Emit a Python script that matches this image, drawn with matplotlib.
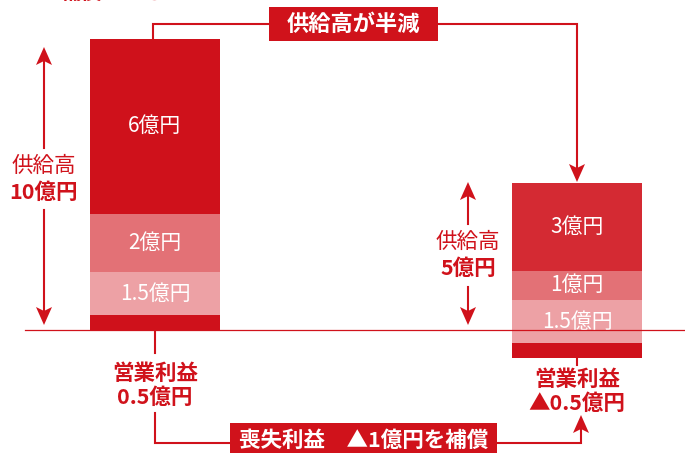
import matplotlib
matplotlib.use("Agg")
import matplotlib.pyplot as plt
from matplotlib.patches import Rectangle, Polygon

plt.rcParams['font.family'] = ['Noto Sans CJK JP', 'DejaVu Sans']

# ---- data (億円) ----
categories = ["before", "after"]
left_values = [0.5, 1.5, 2.0, 6.0]          # 営業利益, 1.5, 2, 6
left_labels = ["", "1.5億円", "2億円", "6億円"]
right_values = [0.5, 1.5, 1.0, 3.0]
right_labels = ["", "1.5億円", "1億円", "3億円"]
right_bottom = -0.96
left_colors = ["#CF111B", "#EDA1A5", "#E37176", "#CF111B"]
right_colors = ["#CF111B", "#EDA1A5", "#E37176", "#D42A33"]

RED = "#D0121B"
W, H = 685, 453
PX_PER_UNIT = 29.1
BASE_PY = 330

fig = plt.figure(figsize=(6.85, 4.53), dpi=100)
ax = fig.add_axes([0, 0, 1, 1])
ax.set_xlim(0, W)
ax.set_ylim((BASE_PY - H) / PX_PER_UNIT, BASE_PY / PX_PER_UNIT)
ax.axis("off")

bar_x = [155, 577]
bar_w = 130

def stack(xc, values, labels, colors, bottom):
    b = bottom
    for v, lab, c in zip(values, labels, colors):
        ax.bar(xc, v, width=bar_w, bottom=b, color=c, edgecolor="none", zorder=2)
        if lab:
            ax.text(xc, b + v / 2, lab, color="white", ha="center", va="center",
                    fontsize=15, zorder=4)
        b += v

stack(bar_x[0], left_values, left_labels, left_colors, 0)
stack(bar_x[1], right_values, right_labels, right_colors, right_bottom)

# overlay in pixel coordinates for annotations
pa = fig.add_axes([0, 0, 1, 1])
pa.set_xlim(0, W)
pa.set_ylim(H, 0)
pa.axis("off")
pa.patch.set_alpha(0)

# baseline
pa.plot([25, W], [BASE_PY, BASE_PY], color=RED, lw=0.9, zorder=5)

def head(x, tip, direction, L=18, hw=8, notch=4):
    # direction: -1 up, +1 down
    base = tip - direction * L
    pts = [(x, tip), (x - hw, base), (x, base + direction * notch), (x + hw, base)]
    pa.add_patch(Polygon(pts, closed=True, color=RED, lw=0, zorder=6))

def line(xs, ys, lw=1.5):
    pa.plot(xs, ys, color=RED, lw=lw, zorder=5, solid_joinstyle="miter")

# left double arrow
line([44, 44], [60, 148])
line([44, 44], [210, 312])
head(44, 47, -1)
head(44, 325, 1)
pa.text(44, 166, "供給高", color=RED, ha="center", va="center", fontsize=15.5)
pa.text(44, 192, "10億円", color=RED, ha="center", va="center", fontsize=15.5, fontweight="bold")

# right double arrow
line([468, 468], [195, 224])
line([468, 468], [287, 312])
head(468, 182, -1)
head(468, 325, 1)
pa.text(468, 242, "供給高", color=RED, ha="center", va="center", fontsize=15.5)
pa.text(468, 268, "5億円", color=RED, ha="center", va="center", fontsize=15.5, fontweight="bold")

# top connector
line([153, 153, 577, 577], [39, 24, 24, 170])
head(577, 182, 1)
pa.add_patch(Rectangle((269, 7), 169, 34, color=RED, lw=0, zorder=6))
pa.text(353.5, 24, "供給高が半減", color="white", ha="center", va="center",
        fontsize=16, fontweight="bold", zorder=7)

# top-left cut text
pa.text(113, -8, "補償される", color=RED, ha="center", va="center", fontsize=15, fontweight="bold")

# bottom labels
line([155, 155], [330, 353])
pa.text(155, 373, "営業利益", color=RED, ha="center", va="center", fontsize=15.5, fontweight="bold")
pa.text(155, 397, "0.5億円", color=RED, ha="center", va="center", fontsize=15.5, fontweight="bold")
line([577, 577], [358, 365])
pa.text(577, 379, "営業利益", color=RED, ha="center", va="center", fontsize=15.5, fontweight="bold")
pa.text(577, 403, "▲0.5億円", color=RED, ha="center", va="center", fontsize=15.5, fontweight="bold")

# bottom connector
line([155, 155, 581, 581], [413, 443, 443, 428])
head(581, 415, -1)
pa.add_patch(Rectangle((230, 423), 267, 40, color=RED, lw=0, zorder=6))
pa.text(363.5, 440, "喪失利益　▲1億円を補償", color="white", ha="center", va="center",
        fontsize=15.5, fontweight="bold", zorder=7)

fig.savefig("out.png", dpi=100)
